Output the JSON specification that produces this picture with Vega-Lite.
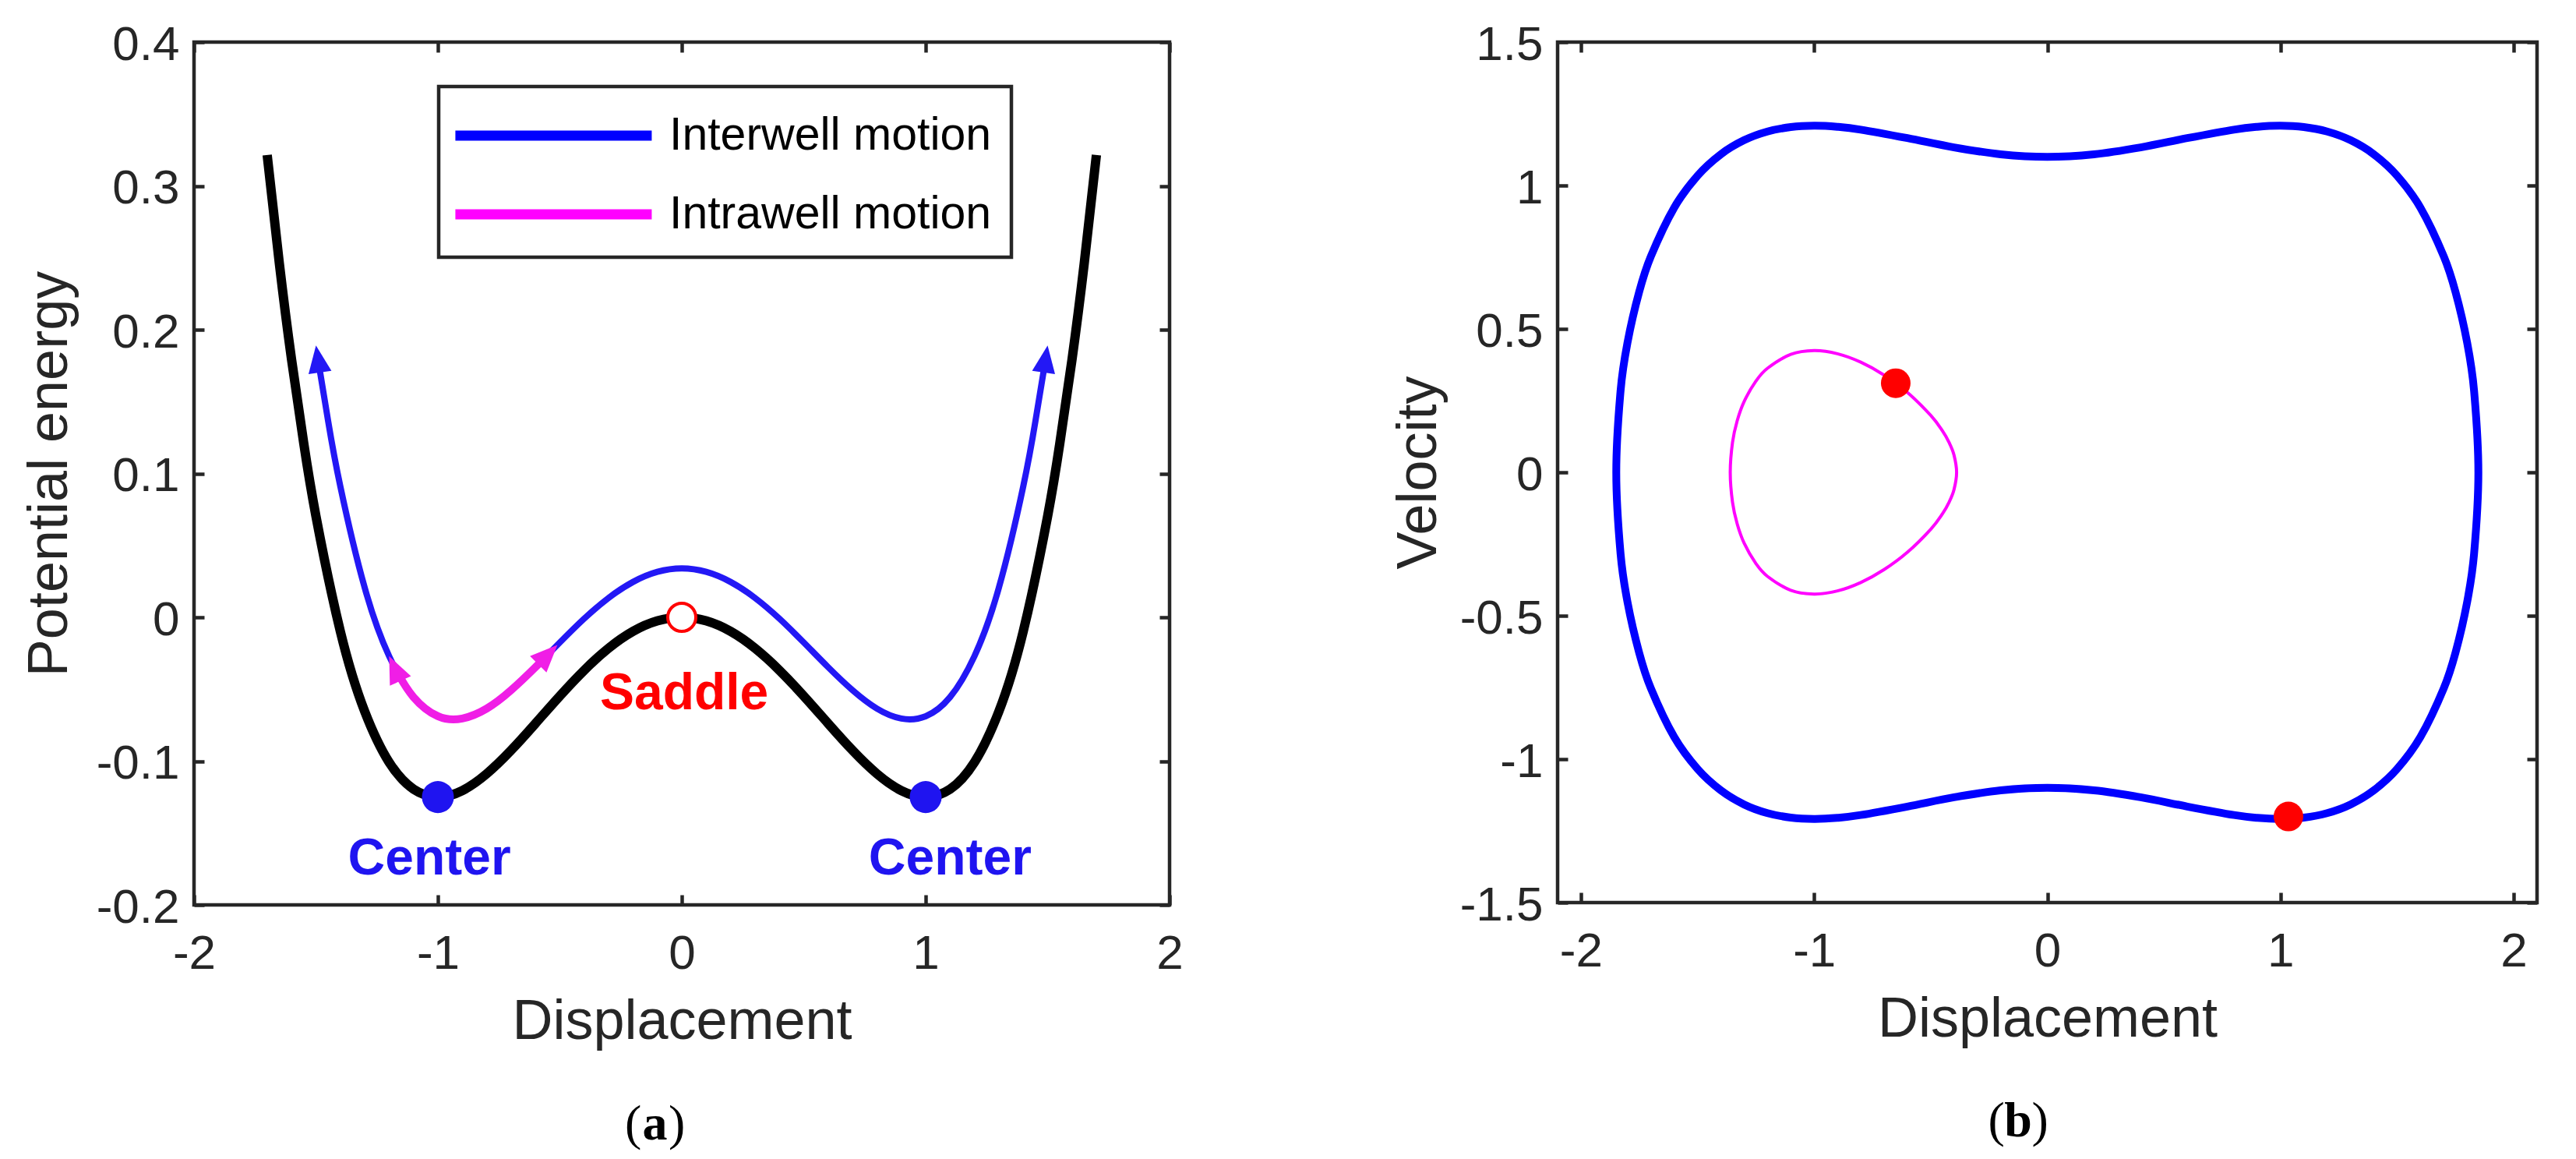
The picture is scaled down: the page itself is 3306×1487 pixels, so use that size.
{
  "$schema": "https://vega.github.io/schema/vega-lite/v6.json",
  "background": "white",
  "padding": {"left": 24, "top": 23, "right": 52, "bottom": 12},
  "bounds": "flush",
  "spacing": 498,
  "datasets": {
    "potential": [
      {"x": -1.7, "y": 0.3215}, {"x": -1.65, "y": 0.2459}, {"x": -1.6, "y": 0.1792}, {"x": -1.55, "y": 0.1209},
      {"x": -1.5, "y": 0.0703}, {"x": -1.4, "y": -0.0098}, {"x": -1.3, "y": -0.0655}, {"x": -1.2, "y": -0.1008},
      {"x": -1.1, "y": -0.1195}, {"x": -1.0, "y": -0.125}, {"x": -0.9, "y": -0.1205}, {"x": -0.8, "y": -0.1088},
      {"x": -0.7, "y": -0.0925}, {"x": -0.6, "y": -0.0738}, {"x": -0.5, "y": -0.0547}, {"x": -0.4, "y": -0.0368},
      {"x": -0.3, "y": -0.0215}, {"x": -0.2, "y": -0.0098}, {"x": -0.1, "y": -0.0025}, {"x": 0, "y": 0},
      {"x": 0.1, "y": -0.0025}, {"x": 0.2, "y": -0.0098}, {"x": 0.3, "y": -0.0215}, {"x": 0.4, "y": -0.0368},
      {"x": 0.5, "y": -0.0547}, {"x": 0.6, "y": -0.0738}, {"x": 0.7, "y": -0.0925}, {"x": 0.8, "y": -0.1088},
      {"x": 0.9, "y": -0.1205}, {"x": 1.0, "y": -0.125}, {"x": 1.1, "y": -0.1195}, {"x": 1.2, "y": -0.1008},
      {"x": 1.3, "y": -0.0655}, {"x": 1.4, "y": -0.0098}, {"x": 1.5, "y": 0.0703}, {"x": 1.55, "y": 0.1209},
      {"x": 1.6, "y": 0.1792}, {"x": 1.65, "y": 0.2459}, {"x": 1.7, "y": 0.3215}
    ],
    "paths": [
      {"m": "Interwell motion", "x": -1.485, "y": 0.1725}, {"m": "Interwell motion", "x": -1.45, "y": 0.1364},
      {"m": "Interwell motion", "x": -1.4, "y": 0.091}, {"m": "Interwell motion", "x": -1.3, "y": 0.0205},
      {"m": "Interwell motion", "x": -1.2, "y": -0.027}, {"m": "Interwell motion", "x": -1.1, "y": -0.0555},
      {"m": "Interwell motion", "x": -1.0, "y": -0.0688}, {"m": "Interwell motion", "x": -0.9, "y": -0.0704},
      {"m": "Interwell motion", "x": -0.8, "y": -0.0635}, {"m": "Interwell motion", "x": -0.7, "y": -0.0507},
      {"m": "Interwell motion", "x": -0.6, "y": -0.0347}, {"m": "Interwell motion", "x": -0.5, "y": -0.0175},
      {"m": "Interwell motion", "x": -0.4, "y": -0.0009}, {"m": "Interwell motion", "x": -0.3, "y": 0.0135},
      {"m": "Interwell motion", "x": -0.2, "y": 0.0246}, {"m": "Interwell motion", "x": -0.1, "y": 0.0316},
      {"m": "Interwell motion", "x": 0, "y": 0.034}, {"m": "Interwell motion", "x": 0.1, "y": 0.0316},
      {"m": "Interwell motion", "x": 0.2, "y": 0.0246}, {"m": "Interwell motion", "x": 0.3, "y": 0.0135},
      {"m": "Interwell motion", "x": 0.4, "y": -0.0009}, {"m": "Interwell motion", "x": 0.5, "y": -0.0175},
      {"m": "Interwell motion", "x": 0.6, "y": -0.0347}, {"m": "Interwell motion", "x": 0.7, "y": -0.0507},
      {"m": "Interwell motion", "x": 0.8, "y": -0.0635}, {"m": "Interwell motion", "x": 0.9, "y": -0.0704},
      {"m": "Interwell motion", "x": 1.0, "y": -0.0688}, {"m": "Interwell motion", "x": 1.1, "y": -0.0555},
      {"m": "Interwell motion", "x": 1.2, "y": -0.027}, {"m": "Interwell motion", "x": 1.3, "y": 0.0205},
      {"m": "Interwell motion", "x": 1.4, "y": 0.091}, {"m": "Interwell motion", "x": 1.45, "y": 0.1364},
      {"m": "Interwell motion", "x": 1.485, "y": 0.1725},
      {"m": "Intrawell motion", "x": -1.17, "y": -0.0373}, {"m": "Intrawell motion", "x": -1.1, "y": -0.0555},
      {"m": "Intrawell motion", "x": -1.0, "y": -0.0688}, {"m": "Intrawell motion", "x": -0.9, "y": -0.0704},
      {"m": "Intrawell motion", "x": -0.8, "y": -0.0635}, {"m": "Intrawell motion", "x": -0.7, "y": -0.0507},
      {"m": "Intrawell motion", "x": -0.6, "y": -0.0347}, {"m": "Intrawell motion", "x": -0.55, "y": -0.0261}
    ],
    "arrows": [
      {"m": "Interwell motion", "x": -1.5, "y": 0.189, "dir": -8.5},
      {"m": "Interwell motion", "x": 1.5, "y": 0.189, "dir": 8.5},
      {"m": "Intrawell motion", "x": -1.2, "y": -0.027, "dir": -24.5},
      {"m": "Intrawell motion", "x": -0.51, "y": -0.0192, "dir": 44.7}
    ],
    "centers": [{"x": -1, "y": -0.125}, {"x": 1, "y": -0.125}],
    "centerLabels": [{"x": -1.035, "y": -0.168, "label": "Center"}, {"x": 1.1, "y": -0.168, "label": "Center"}],
    "saddle": [{"x": 0, "y": 0}],
    "saddleLabel": [{"x": 0.01, "y": -0.0533, "label": "Saddle"}],
    "loops": [
      {"m": "Interwell motion", "i": 0, "x": -1.8484, "v": 0},
      {"m": "Interwell motion", "i": 1, "x": -1.83, "v": 0.2839},
      {"m": "Interwell motion", "i": 2, "x": -1.8, "v": 0.4534},
      {"m": "Interwell motion", "i": 3, "x": -1.75, "v": 0.6296},
      {"m": "Interwell motion", "i": 4, "x": -1.7, "v": 0.753},
      {"m": "Interwell motion", "i": 5, "x": -1.6, "v": 0.9228},
      {"m": "Interwell motion", "i": 6, "x": -1.5, "v": 1.0341},
      {"m": "Interwell motion", "i": 7, "x": -1.4, "v": 1.1089},
      {"m": "Interwell motion", "i": 8, "x": -1.3, "v": 1.158},
      {"m": "Interwell motion", "i": 9, "x": -1.2, "v": 1.1881},
      {"m": "Interwell motion", "i": 10, "x": -1.1, "v": 1.2037},
      {"m": "Interwell motion", "i": 11, "x": -1.0, "v": 1.2083},
      {"m": "Interwell motion", "i": 12, "x": -0.9, "v": 1.2046},
      {"m": "Interwell motion", "i": 13, "x": -0.8, "v": 1.1948},
      {"m": "Interwell motion", "i": 14, "x": -0.6, "v": 1.1652},
      {"m": "Interwell motion", "i": 15, "x": -0.4, "v": 1.133},
      {"m": "Interwell motion", "i": 16, "x": -0.2, "v": 1.1089},
      {"m": "Interwell motion", "i": 17, "x": 0, "v": 1.1},
      {"m": "Interwell motion", "i": 18, "x": 0.2, "v": 1.1089},
      {"m": "Interwell motion", "i": 19, "x": 0.4, "v": 1.133},
      {"m": "Interwell motion", "i": 20, "x": 0.6, "v": 1.1652},
      {"m": "Interwell motion", "i": 21, "x": 0.8, "v": 1.1948},
      {"m": "Interwell motion", "i": 22, "x": 0.9, "v": 1.2046},
      {"m": "Interwell motion", "i": 23, "x": 1.0, "v": 1.2083},
      {"m": "Interwell motion", "i": 24, "x": 1.1, "v": 1.2037},
      {"m": "Interwell motion", "i": 25, "x": 1.2, "v": 1.1881},
      {"m": "Interwell motion", "i": 26, "x": 1.3, "v": 1.158},
      {"m": "Interwell motion", "i": 27, "x": 1.4, "v": 1.1089},
      {"m": "Interwell motion", "i": 28, "x": 1.5, "v": 1.0341},
      {"m": "Interwell motion", "i": 29, "x": 1.6, "v": 0.9228},
      {"m": "Interwell motion", "i": 30, "x": 1.7, "v": 0.753},
      {"m": "Interwell motion", "i": 31, "x": 1.75, "v": 0.6296},
      {"m": "Interwell motion", "i": 32, "x": 1.8, "v": 0.4534},
      {"m": "Interwell motion", "i": 33, "x": 1.83, "v": 0.2839},
      {"m": "Interwell motion", "i": 34, "x": 1.8484, "v": 0},
      {"m": "Interwell motion", "i": 35, "x": 1.83, "v": -0.2839},
      {"m": "Interwell motion", "i": 36, "x": 1.8, "v": -0.4534},
      {"m": "Interwell motion", "i": 37, "x": 1.75, "v": -0.6296},
      {"m": "Interwell motion", "i": 38, "x": 1.7, "v": -0.753},
      {"m": "Interwell motion", "i": 39, "x": 1.6, "v": -0.9228},
      {"m": "Interwell motion", "i": 40, "x": 1.5, "v": -1.0341},
      {"m": "Interwell motion", "i": 41, "x": 1.4, "v": -1.1089},
      {"m": "Interwell motion", "i": 42, "x": 1.3, "v": -1.158},
      {"m": "Interwell motion", "i": 43, "x": 1.2, "v": -1.1881},
      {"m": "Interwell motion", "i": 44, "x": 1.1, "v": -1.2037},
      {"m": "Interwell motion", "i": 45, "x": 1.0, "v": -1.2083},
      {"m": "Interwell motion", "i": 46, "x": 0.9, "v": -1.2046},
      {"m": "Interwell motion", "i": 47, "x": 0.8, "v": -1.1948},
      {"m": "Interwell motion", "i": 48, "x": 0.6, "v": -1.1652},
      {"m": "Interwell motion", "i": 49, "x": 0.4, "v": -1.133},
      {"m": "Interwell motion", "i": 50, "x": 0.2, "v": -1.1089},
      {"m": "Interwell motion", "i": 51, "x": 0, "v": -1.1},
      {"m": "Interwell motion", "i": 52, "x": -0.2, "v": -1.1089},
      {"m": "Interwell motion", "i": 53, "x": -0.4, "v": -1.133},
      {"m": "Interwell motion", "i": 54, "x": -0.6, "v": -1.1652},
      {"m": "Interwell motion", "i": 55, "x": -0.8, "v": -1.1948},
      {"m": "Interwell motion", "i": 56, "x": -0.9, "v": -1.2046},
      {"m": "Interwell motion", "i": 57, "x": -1.0, "v": -1.2083},
      {"m": "Interwell motion", "i": 58, "x": -1.1, "v": -1.2037},
      {"m": "Interwell motion", "i": 59, "x": -1.2, "v": -1.1881},
      {"m": "Interwell motion", "i": 60, "x": -1.3, "v": -1.158},
      {"m": "Interwell motion", "i": 61, "x": -1.4, "v": -1.1089},
      {"m": "Interwell motion", "i": 62, "x": -1.5, "v": -1.0341},
      {"m": "Interwell motion", "i": 63, "x": -1.6, "v": -0.9228},
      {"m": "Interwell motion", "i": 64, "x": -1.7, "v": -0.753},
      {"m": "Interwell motion", "i": 65, "x": -1.75, "v": -0.6296},
      {"m": "Interwell motion", "i": 66, "x": -1.8, "v": -0.4534},
      {"m": "Interwell motion", "i": 67, "x": -1.83, "v": -0.2839},
      {"m": "Intrawell motion", "i": 0, "x": -1.3597, "v": 0},
      {"m": "Intrawell motion", "i": 1, "x": -1.35, "v": 0.104},
      {"m": "Intrawell motion", "i": 2, "x": -1.33, "v": 0.1794},
      {"m": "Intrawell motion", "i": 3, "x": -1.3, "v": 0.247},
      {"m": "Intrawell motion", "i": 4, "x": -1.25, "v": 0.3175},
      {"m": "Intrawell motion", "i": 5, "x": -1.2, "v": 0.3628},
      {"m": "Intrawell motion", "i": 6, "x": -1.1, "v": 0.4111},
      {"m": "Intrawell motion", "i": 7, "x": -1.0, "v": 0.4243},
      {"m": "Intrawell motion", "i": 8, "x": -0.9, "v": 0.4135},
      {"m": "Intrawell motion", "i": 9, "x": -0.8, "v": 0.3842},
      {"m": "Intrawell motion", "i": 10, "x": -0.7, "v": 0.3391},
      {"m": "Intrawell motion", "i": 11, "x": -0.6, "v": 0.2786},
      {"m": "Intrawell motion", "i": 12, "x": -0.5, "v": 0.1985},
      {"m": "Intrawell motion", "i": 13, "x": -0.45, "v": 0.1449},
      {"m": "Intrawell motion", "i": 14, "x": -0.42, "v": 0.102},
      {"m": "Intrawell motion", "i": 15, "x": -0.4, "v": 0.06},
      {"m": "Intrawell motion", "i": 16, "x": -0.389, "v": 0},
      {"m": "Intrawell motion", "i": 17, "x": -0.4, "v": -0.06},
      {"m": "Intrawell motion", "i": 18, "x": -0.42, "v": -0.102},
      {"m": "Intrawell motion", "i": 19, "x": -0.45, "v": -0.1449},
      {"m": "Intrawell motion", "i": 20, "x": -0.5, "v": -0.1985},
      {"m": "Intrawell motion", "i": 21, "x": -0.6, "v": -0.2786},
      {"m": "Intrawell motion", "i": 22, "x": -0.7, "v": -0.3391},
      {"m": "Intrawell motion", "i": 23, "x": -0.8, "v": -0.3842},
      {"m": "Intrawell motion", "i": 24, "x": -0.9, "v": -0.4135},
      {"m": "Intrawell motion", "i": 25, "x": -1.0, "v": -0.4243},
      {"m": "Intrawell motion", "i": 26, "x": -1.1, "v": -0.4111},
      {"m": "Intrawell motion", "i": 27, "x": -1.2, "v": -0.3628},
      {"m": "Intrawell motion", "i": 28, "x": -1.25, "v": -0.3175},
      {"m": "Intrawell motion", "i": 29, "x": -1.3, "v": -0.247},
      {"m": "Intrawell motion", "i": 30, "x": -1.33, "v": -0.1794},
      {"m": "Intrawell motion", "i": 31, "x": -1.35, "v": -0.104}
    ],
    "states": [{"x": -0.65, "v": 0.3108}, {"x": 1.034, "v": -1.2}]
  },
  "hconcat": [
    {
      "width": 1252,
      "height": 1107,
      "resolve": {"axis": {"x": "independent", "y": "independent"}},
      "layer": [
        {
          "layer": [
            {
              "data": {"name": "potential"},
              "mark": {"type": "line", "color": "#000000", "strokeWidth": 12, "interpolate": "natural"},
              "encoding": {
                "x": {"field": "x", "type": "quantitative", "scale": {"domain": [-2, 2], "nice": false, "zero": false},
                  "axis": {"values": [-2, -1, 0, 1, 2], "title": "Displacement", "titleY": 149, "titleBaseline": "middle", "labelExpr": "'' + datum.value"}},
                "y": {"field": "y", "type": "quantitative", "scale": {"domain": [-0.2, 0.4], "nice": false, "zero": false},
                  "axis": {"values": [-0.2, -0.1, 0, 0.1, 0.2, 0.3, 0.4], "title": "Potential energy", "titleX": -186, "titleBaseline": "middle", "labelExpr": "'' + datum.value"}}
              }
            },
            {
              "data": {"name": "paths"},
              "mark": {"type": "line", "opacity": 0, "strokeWidth": 13},
              "encoding": {
                "x": {"field": "x", "type": "quantitative"},
                "y": {"field": "y", "type": "quantitative"},
                "color": {
                  "field": "m", "type": "nominal",
                  "scale": {"domain": ["Interwell motion", "Intrawell motion"], "range": ["#0000ff", "#ff00ff"]},
                  "legend": {
                    "orient": "none", "legendX": 314, "legendY": 57, "title": null,
                    "strokeColor": "#262626", "fillColor": "#ffffff",
                    "padding": 25, "rowPadding": 33,
                    "labelFont": "Liberation Sans", "labelFontSize": 59, "labelColor": "#000000", "labelLimit": 0,
                    "symbolType": "M-1.32,0L6.68,0", "symbolSize": 3969, "symbolStrokeWidth": 13, "symbolOpacity": 1,
                    "labelOffset": 195
                  }
                }
              }
            },
            {
              "data": {"name": "paths"},
              "transform": [{"filter": "datum.m == 'Interwell motion'"}],
              "mark": {"type": "line", "color": "#2318f5", "strokeWidth": 8, "interpolate": "natural"},
              "encoding": {"x": {"field": "x", "type": "quantitative"}, "y": {"field": "y", "type": "quantitative"}}
            },
            {
              "data": {"name": "paths"},
              "transform": [{"filter": "datum.m == 'Intrawell motion'"}],
              "mark": {"type": "line", "color": "#f01ee6", "strokeWidth": 10, "interpolate": "natural"},
              "encoding": {"x": {"field": "x", "type": "quantitative"}, "y": {"field": "y", "type": "quantitative"}}
            },
            {
              "data": {"name": "arrows"},
              "transform": [{"filter": "datum.m == 'Interwell motion'"}],
              "mark": {"type": "point", "shape": "M0,0L0.85,2L-0.85,2Z", "filled": true, "size": 1225, "color": "#2318f5", "opacity": 1},
              "encoding": {
                "x": {"field": "x", "type": "quantitative"}, "y": {"field": "y", "type": "quantitative"},
                "angle": {"field": "dir", "type": "quantitative", "scale": null}
              }
            },
            {
              "data": {"name": "arrows"},
              "transform": [{"filter": "datum.m == 'Intrawell motion'"}],
              "mark": {"type": "point", "shape": "M0,0L0.85,2L-0.85,2Z", "filled": true, "size": 1225, "color": "#f01ee6", "opacity": 1},
              "encoding": {
                "x": {"field": "x", "type": "quantitative"}, "y": {"field": "y", "type": "quantitative"},
                "angle": {"field": "dir", "type": "quantitative", "scale": null}
              }
            },
            {
              "data": {"name": "centers"},
              "mark": {"type": "point", "shape": "circle", "filled": true, "size": 1681, "color": "#1f14f0", "opacity": 1},
              "encoding": {"x": {"field": "x", "type": "quantitative"}, "y": {"field": "y", "type": "quantitative"}}
            },
            {
              "data": {"name": "saddle"},
              "mark": {"type": "point", "shape": "circle", "filled": true, "size": 1296, "fill": "#ffffff", "stroke": "#ff0000", "strokeWidth": 4, "opacity": 1},
              "encoding": {"x": {"field": "x", "type": "quantitative"}, "y": {"field": "y", "type": "quantitative"}}
            },
            {
              "data": {"name": "centerLabels"},
              "mark": {"type": "text", "font": "Liberation Sans", "fontSize": 66, "fontWeight": "bold", "color": "#1f14f0", "align": "center", "baseline": "middle"},
              "encoding": {"x": {"field": "x", "type": "quantitative"}, "y": {"field": "y", "type": "quantitative"}, "text": {"field": "label"}}
            },
            {
              "data": {"name": "saddleLabel"},
              "mark": {"type": "text", "font": "Liberation Sans", "fontSize": 66, "fontWeight": "bold", "color": "#ff0000", "align": "center", "baseline": "middle"},
              "encoding": {"x": {"field": "x", "type": "quantitative"}, "y": {"field": "y", "type": "quantitative"}, "text": {"field": "label"}}
            },
            {
              "data": {"values": [{}]},
              "mark": {"type": "text", "text": "(", "font": "Liberation Serif", "fontSize": 64, "color": "#000000", "align": "center", "baseline": "middle", "dx": -28},
              "encoding": {"x": {"datum": -0.11, "type": "quantitative", "scale": {"domain": [-2, 2]}}, "y": {"datum": -0.353, "type": "quantitative", "scale": {"domain": [-0.2, 0.4]}}}
            },
            {
              "data": {"values": [{}]},
              "mark": {"type": "text", "text": "a", "font": "Liberation Serif", "fontSize": 64, "fontWeight": "bold", "color": "#000000", "align": "center", "baseline": "middle", "dx": 0},
              "encoding": {"x": {"datum": -0.11, "type": "quantitative", "scale": {"domain": [-2, 2]}}, "y": {"datum": -0.353, "type": "quantitative", "scale": {"domain": [-0.2, 0.4]}}}
            },
            {
              "data": {"values": [{}]},
              "mark": {"type": "text", "text": ")", "font": "Liberation Serif", "fontSize": 64, "color": "#000000", "align": "center", "baseline": "middle", "dx": 28},
              "encoding": {"x": {"datum": -0.11, "type": "quantitative", "scale": {"domain": [-2, 2]}}, "y": {"datum": -0.353, "type": "quantitative", "scale": {"domain": [-0.2, 0.4]}}}
            }
          ]
        },
        {
          "data": {"name": "saddle"},
          "mark": {"type": "point", "opacity": 0},
          "encoding": {
            "x": {"field": "x", "type": "quantitative", "axis": {"orient": "top", "values": [-2, -1, 0, 1, 2], "labels": false, "title": null}},
            "y": {"field": "y", "type": "quantitative", "axis": {"orient": "right", "values": [-0.2, -0.1, 0, 0.1, 0.2, 0.3, 0.4], "labels": false, "title": null}}
          }
        }
      ]
    },
    {
      "width": 1257,
      "height": 1104,
      "resolve": {"axis": {"x": "independent", "y": "independent"}},
      "layer": [
        {
          "layer": [
            {
              "data": {"name": "loops"},
              "transform": [{"filter": "datum.m == 'Interwell motion'"}],
              "mark": {"type": "line", "color": "#0000ff", "strokeWidth": 10, "interpolate": "cardinal-closed", "strokeJoin": "round"},
              "encoding": {
                "x": {"field": "x", "type": "quantitative", "scale": {"domain": [-2.1, 2.1], "nice": false, "zero": false},
                  "axis": {"values": [-2, -1, 0, 1, 2], "title": "Displacement", "titleY": 149, "titleBaseline": "middle", "labelExpr": "'' + datum.value"}},
                "y": {"field": "v", "type": "quantitative", "scale": {"domain": [-1.5, 1.5], "nice": false, "zero": false},
                  "axis": {"values": [-1.5, -1, -0.5, 0, 0.5, 1, 1.5], "title": "Velocity", "titleX": -179, "titleBaseline": "middle", "labelExpr": "'' + datum.value"}},
                "order": {"field": "i", "type": "quantitative"}
              }
            },
            {
              "data": {"name": "loops"},
              "transform": [{"filter": "datum.m == 'Intrawell motion'"}],
              "mark": {"type": "line", "color": "#ff00ff", "strokeWidth": 4, "interpolate": "cardinal-closed", "strokeJoin": "round"},
              "encoding": {
                "x": {"field": "x", "type": "quantitative"},
                "y": {"field": "v", "type": "quantitative"},
                "order": {"field": "i", "type": "quantitative"}
              }
            },
            {
              "data": {"name": "states"},
              "mark": {"type": "point", "shape": "circle", "filled": true, "size": 1444, "color": "#ff0000", "opacity": 1},
              "encoding": {"x": {"field": "x", "type": "quantitative"}, "y": {"field": "v", "type": "quantitative"}}
            },
            {
              "data": {"values": [{}]},
              "mark": {"type": "text", "text": "(", "font": "Liberation Serif", "fontSize": 64, "color": "#000000", "align": "center", "baseline": "middle", "dx": -28},
              "encoding": {"x": {"datum": -0.125, "type": "quantitative", "scale": {"domain": [-2.1, 2.1]}}, "y": {"datum": -2.263, "type": "quantitative", "scale": {"domain": [-1.5, 1.5]}}}
            },
            {
              "data": {"values": [{}]},
              "mark": {"type": "text", "text": "b", "font": "Liberation Serif", "fontSize": 64, "fontWeight": "bold", "color": "#000000", "align": "center", "baseline": "middle", "dx": 0},
              "encoding": {"x": {"datum": -0.125, "type": "quantitative", "scale": {"domain": [-2.1, 2.1]}}, "y": {"datum": -2.263, "type": "quantitative", "scale": {"domain": [-1.5, 1.5]}}}
            },
            {
              "data": {"values": [{}]},
              "mark": {"type": "text", "text": ")", "font": "Liberation Serif", "fontSize": 64, "color": "#000000", "align": "center", "baseline": "middle", "dx": 28},
              "encoding": {"x": {"datum": -0.125, "type": "quantitative", "scale": {"domain": [-2.1, 2.1]}}, "y": {"datum": -2.263, "type": "quantitative", "scale": {"domain": [-1.5, 1.5]}}}
            }
          ]
        },
        {
          "data": {"name": "states"},
          "mark": {"type": "point", "opacity": 0},
          "encoding": {
            "x": {"field": "x", "type": "quantitative", "axis": {"orient": "top", "values": [-2, -1, 0, 1, 2], "labels": false, "title": null}},
            "y": {"field": "v", "type": "quantitative", "axis": {"orient": "right", "values": [-1.5, -1, -0.5, 0, 0.5, 1, 1.5], "labels": false, "title": null}}
          }
        }
      ]
    }
  ],
  "config": {
    "font": "Liberation Sans",
    "view": {"stroke": "#262626", "strokeWidth": 4.5},
    "axis": {
      "domain": false, "grid": false, "ticks": true, "tickSize": -13, "tickWidth": 4.5, "tickColor": "#262626",
      "labelFont": "Liberation Sans", "labelFontSize": 62, "labelColor": "#262626",
      "labelFlush": false, "labelOverlap": false, "labelBound": false,
      "titleFont": "Liberation Sans", "titleFontSize": 72, "titleColor": "#262626", "titleFontWeight": "normal"
    },
    "axisX": {"labelPadding": 45.5},
    "axisY": {"labelPadding": 32, "labelOffset": 3},
    "legend": {"strokeWidth": 4.5}
  }
}
